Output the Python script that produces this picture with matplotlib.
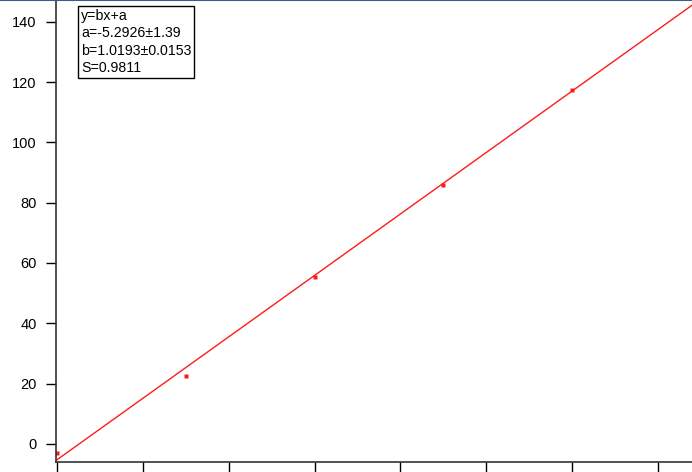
import numpy as np
import matplotlib.pyplot as plt
from matplotlib.lines import Line2D

plt.rcParams["font.family"] = ["Liberation Sans", "DejaVu Sans"]

# data
x_data = [0, 30, 60, 90, 120]
y_data = [-3.0, 22.5, 55.4, 86.0, 117.4]
fit_a = -5.2926
fit_b = 1.0193
fit_text = ["y=bx+a", "a=-5.2926\u00b11.39", "b=1.0193\u00b10.0153", "S=0.9811"]
y_ticks = [0, 20, 40, 60, 80, 100, 120, 140]
x_ticks = [0, 20, 40, 60, 80, 100, 120, 140]

fig = plt.figure(figsize=(6.92, 4.72), dpi=100)
ax = fig.add_axes([56 / 692, 10 / 472, 636 / 692, 462 / 472])

xs = np.array([0, 160])
ax.plot(xs, fit_a + fit_b * xs, color="#ff1a1a", lw=1.0)
ax.plot(x_data, y_data, "s", color="#ff1a1a", ms=2.2, mec="none")

ax.set_xlim(-0.2, 147.9)
ax.set_ylim(-6.0, 147.2)
ax.set_yticks(y_ticks)
ax.set_xticks(x_ticks)
ax.set_xticklabels([])
ax.tick_params(axis="y", length=7, width=1, pad=7, labelsize=10.5)
ax.tick_params(axis="x", length=10, width=1, direction="out")
for side in ["top", "right"]:
    ax.spines[side].set_visible(False)
for side in ["left", "bottom"]:
    ax.spines[side].set_linewidth(1.2)
    ax.spines[side].set_color("#333333")

ax.text(81 / 692 * 692 / 636 - 56 / 636, 1 - 9 / 462, "\n".join(fit_text), transform=ax.transAxes,
        va="top", ha="left", fontsize=10.2, linespacing=1.3,
        bbox=dict(boxstyle="square,pad=0.2", fc="white", ec="black", lw=1))

# window border at top
fig.add_artist(Line2D([0, 1], [0.999, 0.999], transform=fig.transFigure, color="#3d5a8a", lw=1.5))

fig.savefig("out.png", dpi=100)
